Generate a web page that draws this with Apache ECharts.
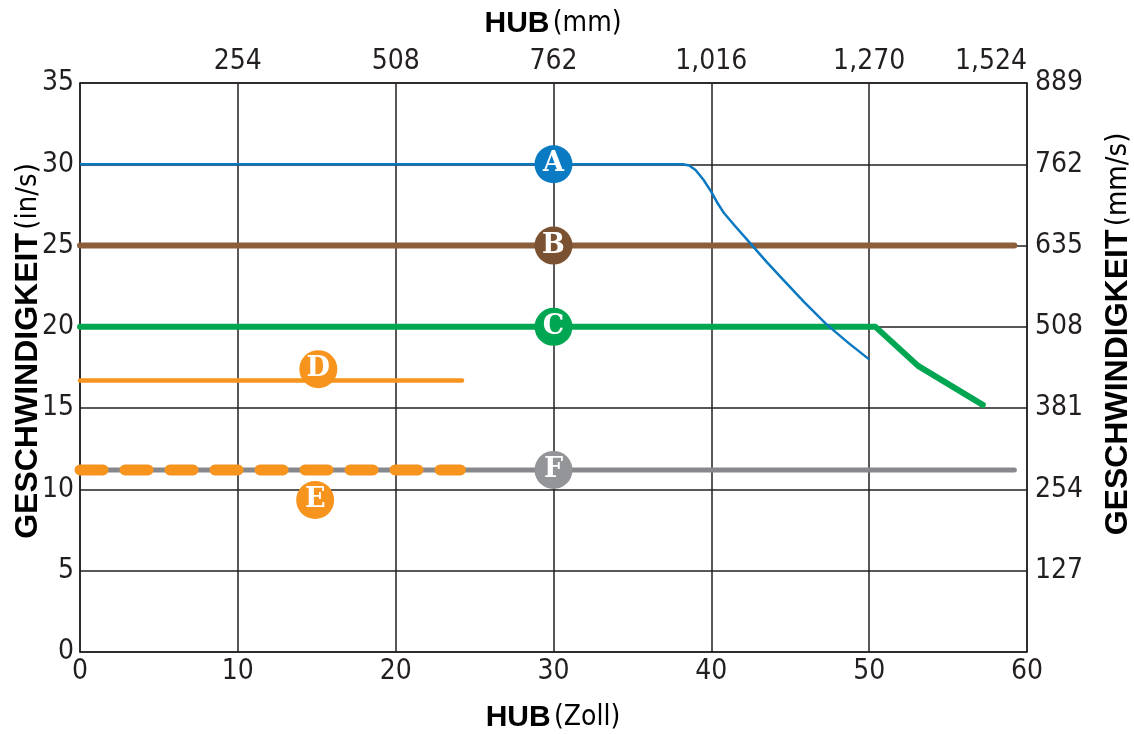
<!DOCTYPE html>
<html>
<head>
<meta charset="utf-8">
<script src="https://cdn.jsdelivr.net/npm/echarts@6/dist/echarts.min.js"></script>
<style>html,body{margin:0;padding:0;background:#fff}#c{width:1134px;height:734px}</style>
</head>
<body>
<div id="c"></div>
<script>
// Stroke (in) vs speed (in/s)
const lineA = [[0,30],[38.2,30],[38.6,29.92],[39.0,29.65],[39.5,29.05],[40,28.3],[40.4,27.6],[40.8,27.0],[41.5,26.2],[42.5,25.1],[43.5,24.0],[44.5,22.95],[45.9,21.5],[47.3,20.15],[48.7,19.0],[50,18]];
const lineB = [[0,25],[59.2,25]];
const lineC = [[0,20],[50.4,20],[53.1,17.6],[57.2,15.2]];
const lineD = [[0,16.7],[24.2,16.7]];
const lineE = [[0,11.2],[24.1,11.2]];
const lineF = [[0,11.2],[59.2,11.2]];
const labelNames = ['A','B','C','D','E','F'];
const labelPos = [[30,30],[30,25],[30,20],[15.1,17.4],[14.9,9.35],[30,11.2]];
const xTicksIn = {min:0, max:60, interval:10};
const yTicksIn = {min:0, max:35, interval:5};
const xTicksMm = {min:0, max:1524, interval:254};
const yTicksMm = {min:0, max:889, interval:127};

const colors = {A:'#0b79c1', B:'#8b5e3c', C:'#00a651', D:'#f7941d', E:'#f7941d', F:'#87888b'};
const circleColors = {A:'#0a7bc2', B:'#7b5231', C:'#00a651', D:'#f7941d', E:'#f7941d', F:'#939598'};

const numFont = '"Liberation Sans Narrow","DejaVu Sans Condensed",sans-serif';
const boldFont = '"Liberation Sans","Arial",sans-serif';
const ink = '#231f20';

function fmtComma(v){ return v === 0 ? '' : v.toLocaleString('en-US'); }

const chart = echarts.init(document.getElementById('c'), null, {renderer:'canvas'});
const axisLabel = {color: ink, fontFamily: numFont, fontSize: 28};
const richTitle = {
  b: {fontFamily: boldFont, fontWeight: 'bold', fontSize: 30, color: ink},
  s: {fontSize: 12},
  n: {fontFamily: numFont, fontSize: 28, color: ink}
};
const richTitleY = {
  b: {fontFamily: boldFont, fontWeight: 'bold', fontSize: 32, color: ink},
  s: {fontSize: 12},
  n: {fontFamily: numFont, fontSize: 29, color: ink}
};
const option = {
  animation: false,
  backgroundColor: '#fff',
  grid: {left: 80, right: 107, top: 83, bottom: 82, containLabel: false},
  xAxis: [
    {type:'value', position:'bottom', min:xTicksIn.min, max:xTicksIn.max, interval:xTicksIn.interval,
     axisLine:{show:true, onZero:false, lineStyle:{color:ink, width:1.5}},
     axisTick:{show:false},
     axisLabel:Object.assign({margin:6}, axisLabel),
     splitLine:{show:true, lineStyle:{color:ink, width:1.5}}},
    {type:'value', position:'top', min:xTicksMm.min, max:xTicksMm.max, interval:xTicksMm.interval,
     axisLine:{show:true, onZero:false, lineStyle:{color:ink, width:1.5}},
     axisTick:{show:false},
     axisLabel:Object.assign({margin:7, formatter: fmtComma, alignMaxLabel:'right'}, axisLabel),
     splitLine:{show:false}}
  ],
  yAxis: [
    {type:'value', position:'left', min:yTicksIn.min, max:yTicksIn.max, interval:yTicksIn.interval,
     axisLine:{show:true, onZero:false, lineStyle:{color:ink, width:1.5}},
     axisTick:{show:false},
     axisLabel:Object.assign({margin:6}, axisLabel),
     splitLine:{show:true, lineStyle:{color:ink, width:1.5}}},
    {type:'value', position:'right', min:yTicksMm.min, max:yTicksMm.max, interval:yTicksMm.interval,
     axisLine:{show:true, onZero:false, lineStyle:{color:ink, width:1.5}},
     axisTick:{show:false},
     axisLabel:Object.assign({margin:8, formatter: v => v === 0 ? '' : String(v)}, axisLabel),
     splitLine:{show:false}}
  ],
  series: [
    {name:'F', type:'line', data:lineF, showSymbol:false, z:2,
     lineStyle:{color:colors.F, width:5, cap:'round'}},
    {name:'E', type:'line', data:lineE, showSymbol:false, z:3,
     lineStyle:{color:colors.E, width:11, type:[23,22], cap:'round'}},
    {name:'D', type:'line', data:lineD, showSymbol:false, z:3,
     lineStyle:{color:colors.D, width:4.5, cap:'round'}},
    {name:'C', type:'line', data:lineC, showSymbol:false, z:3,
     lineStyle:{color:colors.C, width:6, cap:'round', join:'round'}},
    {name:'B', type:'line', data:lineB, showSymbol:false, z:3,
     lineStyle:{color:colors.B, width:6, cap:'round'}},
    {name:'A', type:'line', data:lineA, showSymbol:false, z:4,
     lineStyle:{color:colors.A, width:2.5, join:'round'}},
    {name:'labels', type:'scatter', z:10, symbol:'circle', symbolSize:38,
     emphasis:{disabled:true},
     data: labelPos.map((p,i) => ({value:p, name:labelNames[i],
        itemStyle:{color:circleColors[labelNames[i]], opacity:1}})),
     label:{show:true, position:'inside', formatter: p => p.name, color:'#fff',
        fontFamily:'"DejaVu Serif","Liberation Serif",serif', fontWeight:'bold', fontSize:27}}
  ],
  graphic: [
    {type:'text', x:553, y:718, style:{text:'{b|HUB}{s| }{n|(Zoll)}', rich:richTitle, textAlign:'center', textVerticalAlign:'middle'}},
    {type:'text', x:553, y:24, style:{text:'{b|HUB}{s| }{n|(mm)}', rich:richTitle, textAlign:'center', textVerticalAlign:'middle'}},
    {type:'text', x:28, y:351, rotation:Math.PI/2, style:{text:'{b|GESCHWINDIGKEIT}{s| }{n|(in/s)}', rich:richTitleY, textAlign:'center', textVerticalAlign:'middle'}},
    {type:'text', x:1118, y:334, rotation:Math.PI/2, style:{text:'{b|GESCHWINDIGKEIT}{s| }{n|(mm/s)}', rich:richTitleY, textAlign:'center', textVerticalAlign:'middle'}}
  ]
};
chart.setOption(option);
</script>
</body>
</html>
